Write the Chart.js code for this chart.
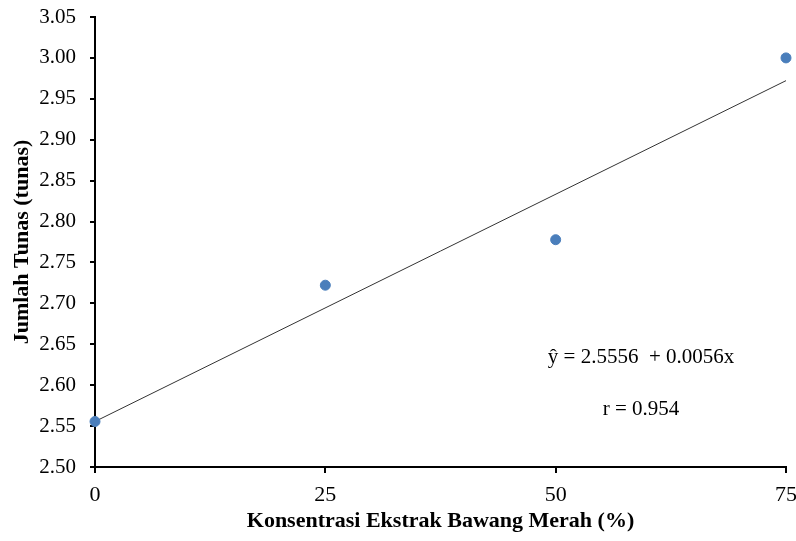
<!DOCTYPE html>
<html>
<head>
<meta charset="utf-8">
<script src="https://cdn.jsdelivr.net/npm/chart.js@4/dist/chart.umd.min.js"></script>
<style>
  html, body { margin: 0; padding: 0; background: #fff; }
  #wrap { width: 796px; height: 541px; }
</style>
</head>
<body>
<div id="wrap"><canvas id="myChart" width="796" height="541"></canvas></div>
<script>
// data
var konsentrasi = [0, 25, 50, 75];
var jumlahTunas = [2.5556, 2.7222, 2.7778, 3.0];
var trendX = [0, 75];
var trendY = [2.5556, 2.9722];
var xTicks = [0, 25, 50, 75];
var equationText = "ŷ = 2.5556  + 0.0056x";
var rText = "r = 0.954";

var serif = "'Liberation Serif', 'Times New Roman', serif";

var labelsPlugin = {
    id: "labelsPlugin",
    afterDatasetsDraw: function (chart) {
        var c = chart.ctx;
        var a = chart.chartArea;
        c.save();
        c.fillStyle = "#000";
        c.font = "21px " + serif;
        c.textAlign = "center";
        c.textBaseline = "middle";
        c.fillText(equationText, a.left + 546, 357);
        c.fillText(rText, a.left + 546, 409);
        c.restore();
    },
};

var ctx = document.getElementById("myChart").getContext("2d");
var myChart = new Chart(ctx, {
    type: "scatter",
    data: {
        datasets: [
            {
                label: "Trend",
                type: "line",
                data: trendX.map(function (x, i) { return { x: x, y: trendY[i] }; }),
                borderColor: "#333",
                borderWidth: 1,
                pointRadius: 0,
                fill: false,
                clip: false,
                order: 2,
            },
            {
                label: "Jumlah Tunas",
                data: konsentrasi.map(function (x, i) { return { x: x, y: jumlahTunas[i] }; }),
                backgroundColor: "#4a7ebb",
                borderColor: "#4a7ebb",
                pointRadius: 5,
                clip: false,
                order: 1,
            },
        ],
    },
    options: {
        responsive: false,
        animation: false,
        layout: { padding: { top: 17, right: 10, left: 0, bottom: 0 } },
        plugins: { legend: { display: false }, tooltip: { enabled: false } },
        scales: {
            x: {
                type: "linear",
                min: 0,
                max: 75,
                afterBuildTicks: function (s) {
                    s.ticks = xTicks.map(function (v) { return { value: v }; });
                },
                afterFit: function (s) {
                    s.height = 74;
                    s.paddingLeft = 0;
                    s.paddingRight = 0;
                },
                border: { color: "#000", width: 2 },
                grid: { drawOnChartArea: false, color: "#000", tickLength: 6, lineWidth: 2 },
                ticks: { color: "#000", font: { family: serif, size: 22 }, padding: 9 },
                title: {
                    display: true,
                    text: "Konsentrasi Ekstrak Bawang Merah (%)",
                    color: "#000",
                    font: { family: serif, size: 22, weight: "bold" },
                    padding: { top: 0, bottom: 6 },
                },
            },
            y: {
                min: 2.5,
                max: 3.05,
                afterFit: function (s) {
                    s.width = 95;
                    s.paddingTop = 0;
                    s.paddingBottom = 0;
                },
                border: { color: "#000", width: 2 },
                grid: { drawOnChartArea: false, color: "#000", tickLength: 5, lineWidth: 2 },
                ticks: {
                    stepSize: 0.05,
                    color: "#000",
                    font: { family: serif, size: 21 },
                    padding: 14,
                    callback: function (v) { return v.toFixed(2); },
                },
                title: {
                    display: true,
                    text: "Jumlah Tunas (tunas)",
                    color: "#000",
                    font: { family: serif, size: 22, weight: "bold" },
                    padding: { top: 9, bottom: 4 },
                },
            },
        },
    },
    plugins: [labelsPlugin],
});
</script>
</body>
</html>
